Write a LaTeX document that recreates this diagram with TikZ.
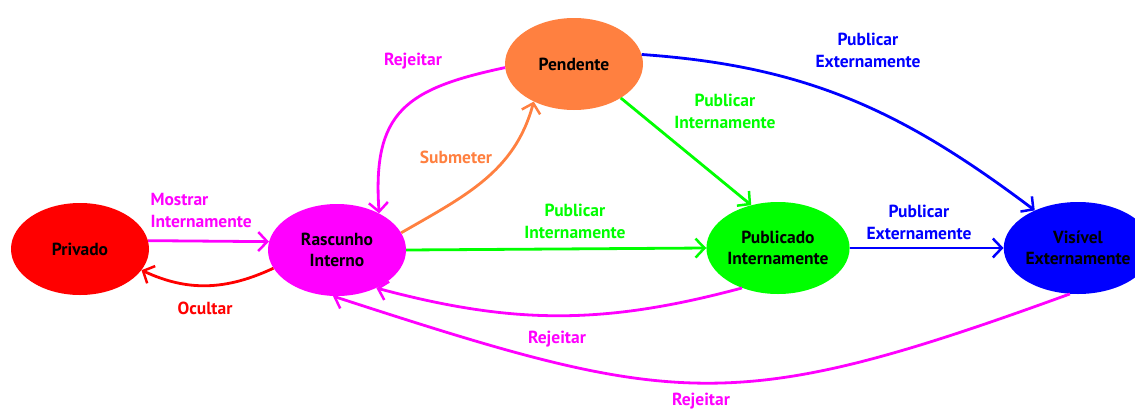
\documentclass[tikz,border=0pt]{standalone}
\usepackage{fontspec}
\setmainfont{PT Sans}
\usetikzlibrary{shapes.geometric,arrows.meta}
\definecolor{rosa}{RGB}{255,0,255}
\definecolor{laranja}{RGB}{255,128,64}
\definecolor{verde}{RGB}{0,255,0}
\definecolor{azul}{RGB}{0,0,255}
\definecolor{vermelho}{RGB}{255,0,0}
\begin{document}
\begin{tikzpicture}[x=1pt,y=-1pt,
	estado/.style={ellipse,minimum width=138,minimum height=92,inner sep=0pt,align=center,
		font=\bfseries\fontsize{17.5}{21}\selectfont},
	rotulo/.style={align=center,font=\bfseries\fontsize{17.5}{22}\selectfont},
	seta/.style={line width=2.8pt,-{Straight Barb[length=9pt,width=19pt,line width=2.5pt]}}]
			\useasboundingbox (0,0) rectangle (1135,410);
			\clip (0,0) rectangle (1135,410);
			% estados
			\foreach \nome/\x/\y/\cor/\texto in {privado/80/249/vermelho/{Privado},
				rascunho/337/250/rosa/{Rascunho\\Interno},
				pendente/574/64/laranja/{Pendente},
				publicado/778/248/verde/{Publicado\\Internamente},
				visivel/1078/248/azul/{Visível\\Externamente}}
				\node[estado,fill=\cor] (\nome) at (\x,\y) {\texto};
			% mostrar / ocultar
			\draw[seta,rosa] (privado.7) -- (rascunho.173);
			\node[rotulo,rosa,anchor=west,align=left] (mostrar) at (147,210) {Mostrar\\Internamente};
			\draw[seta,vermelho] (rascunho.196) to[out=205,in=-25] (privado.-19);
			\node[rotulo,vermelho] (ocultar) at (205,308) {Ocultar};
			% submeter / rejeitar
			\draw[seta,laranja] (rascunho.15) to[out=30,in=255] (pendente.223);
			\node[rotulo,laranja] (submeter) at (456,157) {Submeter};
			\draw[seta,rosa] (pendente.183) to[out=192,in=94,looseness=1.35] (rascunho.41);
			\node[rotulo,rosa] (rejeitar1) at (413,61) {Rejeitar};
			% publicar internamente
			\draw[seta,verde] (pendente.-36) -- (publicado.122);
			\node[rotulo,verde] (pubint1) at (725,111) {Publicar\\Internamente};
			\draw[seta,verde] (rascunho.east) -- (publicado.west);
			\node[rotulo,verde] (pubint2) at (575,221) {Publicar\\Internamente};
			% publicar externamente
			\draw[seta,azul] (publicado.east) -- (visivel.west);
			\node[rotulo,azul] (pubext1) at (919,222) {Publicar\\Externamente};
			\draw[seta,azul] (pendente.8) to[out=-4,in=143] (visivel.139);
			\node[rotulo,azul] (pubext2) at (868,50) {Publicar\\Externamente};
			% rejeitar de volta
			\draw[seta,rosa] (publicado.228) to[out=195,in=-15] (rascunho.-44);
			\node[rotulo,rosa] (rejeitar2) at (557,339) {Rejeitar};
			\draw[seta,rosa] (visivel.260) to[out=200,in=-18,looseness=1.25] (rascunho.-95);
			\node[rotulo,rosa] (rejeitar3) at (701,401) {Rejeitar};
\end{tikzpicture}
\end{document}
